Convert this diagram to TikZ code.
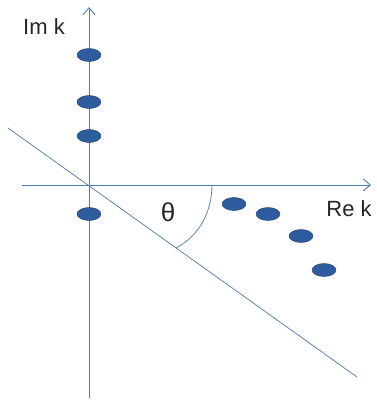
\documentclass[tikz,border=0pt]{standalone}
\usepackage{fontspec}
\setmainfont{Liberation Sans}
\usetikzlibrary{arrows.meta,shapes.geometric}
\definecolor{axisblue}{HTML}{4A7EBB}
\definecolor{polefill}{HTML}{2E5C9E}
\definecolor{poleline}{HTML}{1F3F6E}
\definecolor{cutgray}{HTML}{5C85B0}
\tikzset{
  axis/.style={axisblue, line width=0.9pt, -{Straight Barb[length=7pt,width=12pt]}},
  pole/.style={ellipse, fill=polefill, draw=poleline, line width=0.4pt,
    minimum width=24pt, minimum height=13pt, inner sep=0pt},
  lbl/.style={font=\fontsize{22}{24}\selectfont, text=black!85}
}
\begin{document}
\begin{tikzpicture}[x=1pt, y=-1pt]
  \useasboundingbox (0,0) rectangle (377,400);

  % axes
  \coordinate (o) at (89,185);
  \coordinate (xl) at (22,185);
  \coordinate (xr) at (371,185);
  \coordinate (yb) at (89,398);
  \coordinate (yt) at (89,7);
  \draw[axis] (xl) -- (xr);
  \draw[axis] (yb) -- (yt);

  % rotated contour line and angle
  \coordinate (cl) at (8,128);
  \coordinate (cr) at (357,377);
  \draw[cutgray, line width=0.8pt] (cl) -- (cr);
  \coordinate (a1) at (212,185);
  \coordinate (a2) at (176,248);
  \draw[cutgray, line width=0.8pt] (a1) .. controls (212,212) and (199,236) .. (a2);

  % labels
  \node[lbl] (imk) at (44,27) {Im k};
  \node[lbl] (rek) at (349,209) {Re k};
  \node[lbl, font=\fontsize{26}{28}\selectfont] (theta) at (168,212) {θ};

  % poles on the imaginary axis
  \foreach \i/\y in {1/55, 2/102, 3/136, 4/214} {
    \node[pole] (p\i) at (89,\y) {};
  }

  % poles in the fourth quadrant
  \foreach \i/\x/\y in {5/234/204, 6/268/214, 7/301/236, 8/324/270} {
    \node[pole] (p\i) at (\x,\y) {};
  }
\end{tikzpicture}
\end{document}
